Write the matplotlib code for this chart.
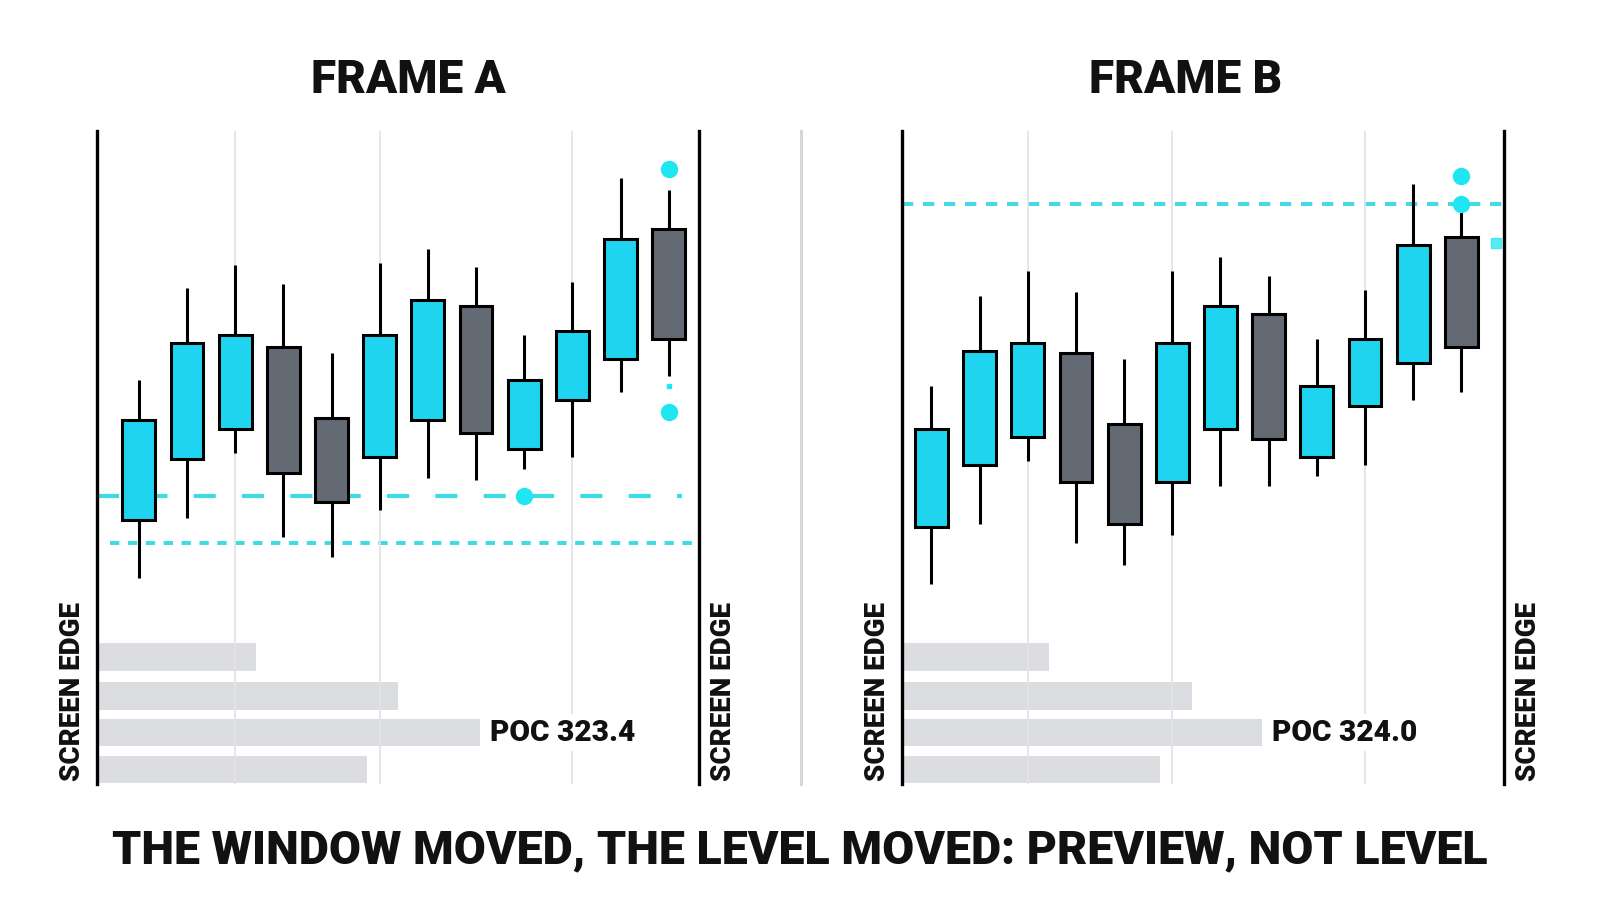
import matplotlib
matplotlib.use("Agg")
import matplotlib.pyplot as plt
from matplotlib.lines import Line2D
import numpy as np

plt.rcParams['font.family'] = ['Roboto', 'DejaVu Sans']

# ---- data (price units) ----
a_open = [322.9, 325.9, 327.4, 331.4, 327.9, 326.0, 327.8, 333.4, 326.4, 328.8, 330.8, 337.2]
a_close = [327.8, 331.6, 332.0, 325.2, 323.8, 332.0, 333.7, 327.2, 329.8, 332.2, 336.7, 331.8]
a_high = [329.8, 334.3, 335.4, 334.5, 331.1, 335.5, 336.2, 335.3, 332.0, 334.6, 339.7, 339.1]
a_low = [320.1, 323.0, 326.2, 322.1, 321.1, 323.4, 325.0, 324.9, 325.4, 326.0, 329.2, 330.0]

b_open = [322.6, 325.6, 327.0, 331.1, 327.6, 324.8, 327.4, 333.0, 326.0, 328.5, 330.6, 336.8]
b_close = [327.4, 331.2, 331.6, 324.8, 322.7, 331.6, 333.4, 326.9, 329.5, 331.8, 336.4, 331.4]
b_high = [329.5, 333.9, 335.1, 334.1, 330.8, 335.1, 335.8, 334.9, 331.8, 334.2, 339.4, 338.4]
b_low = [319.8, 322.7, 325.8, 321.8, 320.7, 322.2, 324.6, 324.6, 325.1, 325.6, 328.8, 329.2]

# volume profile rows (price level, volume)
profile_levels = [316.2, 314.3, 312.5, 310.7]
a_volume = [26.4, 50.0, 63.6, 44.9]
b_volume = [24.4, 48.1, 59.8, 42.9]
poc_labels = ['POC 323.4', 'POC 324.0']

# marker dots (candle index, price)
a_dot_x = [11, 11, 8]
a_dot_y = [340.1, 328.2, 324.1]
a_small_dot = (11, 329.5)
b_dot_x = [11, 11]
b_dot_y = [339.8, 338.4]
b_tag_price = 336.5

a_dash_level = 324.1
a_dot_level = 321.8
b_dash_level = 338.4

grid_x = [2, 5, 9]

titles = ['FRAME A', 'FRAME B']
edge_label = 'SCREEN EDGE'
caption = 'THE WINDOW MOVED, THE LEVEL MOVED: PREVIEW, NOT LEVEL'

CYAN = '#1fd4ee'
DARK = '#636a74'
DOT = '#1fe6f0'
LEVEL = '#3ddbe4'
BAR = '#dcdde0'
GRID = '#e4e4e6'
INK = '#111111'
HEAVY = 900


def draw_panel(rect, xlim, o, c, h, l, vol, poc):
    ax = fig.add_axes(rect)
    ax_v = ax.twiny()
    ax_v.set_zorder(ax.get_zorder() - 1)
    ax.patch.set_visible(False)

    x = np.arange(len(o))
    o = np.array(o); c = np.array(c)
    colors = [CYAN if u else DARK for u in (c >= o)]
    ax.vlines(x, l, h, color='black', lw=2.2, zorder=3)
    ax.bar(x, np.abs(c - o), bottom=np.minimum(o, c), width=0.68,
           color=colors, edgecolor='black', lw=2.2, zorder=4)

    ax.set_xlim(*xlim)
    ax.set_ylim(310, 342)
    ax.set_xticks(grid_x)
    ax.set_yticks([])
    ax.tick_params(length=0, labelbottom=False)
    ax.grid(axis='x', color=GRID, lw=1.3, zorder=0)
    for s in ['top', 'bottom']:
        ax.spines[s].set_visible(False)
    for s in ['left', 'right']:
        ax.spines[s].set_color('black')
        ax.spines[s].set_linewidth(2.4)

    # volume profile
    ax_v.barh(profile_levels, vol, height=1.35, color=BAR, zorder=1)
    ax_v.set_xlim(0, 100)
    ax_v.axis('off')
    ax.annotate(poc, (vol[2], profile_levels[2]), xycoords=ax_v.transData,
                xytext=(7, 0), textcoords='offset points', ha='left', va='center',
                fontsize=21.5, fontweight=HEAVY, color=INK, zorder=6,
                bbox=dict(boxstyle='square,pad=0.15', fc='white', ec='none'))

    # screen edge labels
    ax.annotate(edge_label, (0, 0), xycoords='axes fraction', xytext=(-8, 2),
                textcoords='offset points', rotation=90, ha='right', va='bottom',
                fontsize=20, fontweight=HEAVY, color=INK)
    ax.annotate(edge_label, (1, 0), xycoords='axes fraction', xytext=(8, 2),
                textcoords='offset points', rotation=90, ha='left', va='bottom',
                fontsize=20, fontweight=HEAVY, color=INK)
    return ax


fig = plt.figure(figsize=(16, 9.14), dpi=100)
fig.patch.set_facecolor('white')

ax_a = draw_panel([0.0606, 0.1426, 0.3763, 0.7145], (-0.87, 11.63),
                  a_open, a_close, a_high, a_low, a_volume, poc_labels[0])
ax_b = draw_panel([0.5638, 0.1426, 0.3763, 0.7145], (-0.61, 11.89),
                  b_open, b_close, b_high, b_low, b_volume, poc_labels[1])

# frame A levels
ax_a.axhline(a_dash_level, xmin=0.0, xmax=0.971, color=LEVEL, lw=3.0,
             dashes=(5.3, 6.3), zorder=1)
ax_a.axhline(a_dot_level, xmin=0.022, xmax=0.997, color=LEVEL, lw=2.8,
             dashes=(2.4, 2.2), zorder=1)
ax_a.plot(a_dot_x, a_dot_y, 'o', color=DOT, ms=11.5, zorder=5)
ax_a.plot(*a_small_dot, 's', color=DOT, ms=3, zorder=5)

# frame B levels
ax_b.axhline(b_dash_level, color=LEVEL, lw=2.8, dashes=(2.9, 2.5), zorder=1)
ax_b.plot(b_dot_x, b_dot_y, 'o', color=DOT, ms=11.5, zorder=5)
ax_b.plot([0.987], [b_tag_price], 's', color=DOT, ms=7, alpha=0.75,
          transform=ax_b.get_yaxis_transform(), zorder=2)

# separator between frames
fig.add_artist(Line2D([0.5006, 0.5006], [0.1426, 0.857], color='#d6d6d6', lw=2.2))

fig.text(0.255, 0.913, titles[0], ha='center', va='center',
         fontsize=33, fontweight=HEAVY, color=INK)
fig.text(0.741, 0.913, titles[1], ha='center', va='center',
         fontsize=33, fontweight=HEAVY, color=INK)
fig.text(0.5, 0.070, caption, ha='center', va='center',
         fontsize=33.5, fontweight=HEAVY, color=INK)

fig.savefig('out.png', dpi=100, facecolor='white')
